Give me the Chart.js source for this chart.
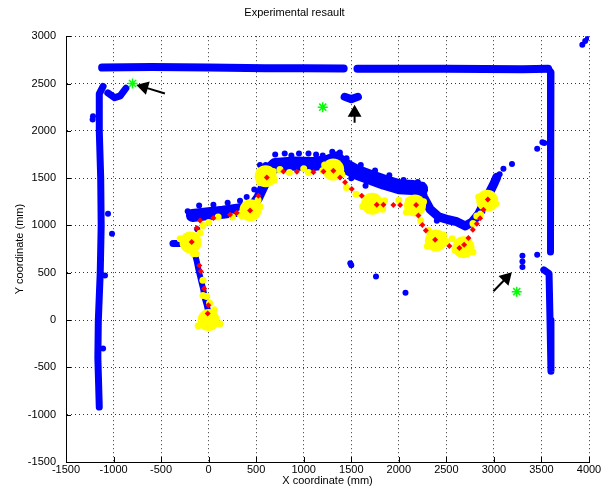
<!DOCTYPE html>
<html>
<head>
<meta charset="utf-8">
<script src="https://cdn.jsdelivr.net/npm/chart.js@4"></script>
<style>
  html, body { margin: 0; padding: 0; background: #fff; }
</style>
</head>
<body>
<canvas id="expChart" width="607" height="489"></canvas>
<script>
// tick labels
const xTicks = [-1500, -1000, -500, 0, 500, 1000, 1500, 2000, 2500, 3000, 3500, 4000];
const yTicks = [-1500, -1000, -500, 0, 500, 1000, 1500, 2000, 2500, 3000];

// walls seen by the sensor (dense blue traces)
const wallTopA = [[-1120, 2668], [-600, 2674], [0, 2668], [600, 2662], [1000, 2660], [1420, 2658]];
const wallTopB = [[1565, 2655], [2500, 2656], [3300, 2650], [3570, 2656]];
const wallLeft = [[-1110, 2470], [-1150, 2390], [-1150, 2000], [-1135, 1500], [-1130, 1000], [-1140, 500], [-1160, 0], [-1165, -400], [-1150, -920]];
const wallRightA = [[3570, 2656], [3600, 2620], [3600, 2200], [3590, 1900], [3590, 1200], [3600, 720]];
const wallRightB = [[3525, 530], [3580, 490], [3590, 0], [3600, -540]];
const hookTL = [[-1060, 2400], [-990, 2350], [-930, 2370], [-870, 2450]];
const gapBlob = [[1430, 2360], [1500, 2335], [1570, 2360]];

// blue trajectory band
const bandLeg = [[-5, 90], [-20, 160], [-40, 230], [-58, 330], [-75, 400], [-92, 470], [-110, 545], [-127, 630], [-145, 700], [-165, 790]];
const bandSide = [[-375, 810], [-285, 810]];
const bandA = [[-170, 1105], [0, 1125], [150, 1140], [300, 1160], [440, 1180]];
const bandRise = [[440, 1180], [520, 1290], [580, 1420], [640, 1560]];
const bandTop = [[640, 1580], [700, 1640], [900, 1655], [1100, 1650], [1250, 1670], [1350, 1710]];
const bandB = [[1350, 1690], [1450, 1620], [1550, 1565], [1700, 1510], [1850, 1455], [2000, 1410], [2150, 1400], [2230, 1385]];
const bandC = [[2230, 1385], [2260, 1300], [2330, 1170], [2420, 1090], [2520, 1060], [2610, 1040], [2700, 995], [2770, 1035], [2840, 1120], [2900, 1240], [2960, 1360], [3000, 1440], [3030, 1510]];

// scattered blue readings
const blueDots = [
  [700, 1750], [800, 1760], [870, 1740], [950, 1760], [1050, 1760], [1130, 1750], [1200, 1740],
  [1300, 1780], [1380, 1770], [-220, 1150], [-100, 1210], [50, 1220], [200, 1240], [330, 1260],
  [400, 1300], [480, 1380], [550, 1520], [600, 1640], [540, 1640], [1450, 1710], [1600, 1640], [1750, 1580],
  [1900, 1530], [2050, 1480], [2200, 1460], [2250, 1430], [3060, 1540], [3100, 1600], [3190, 1650],
  [1490, 600], [1500, 580], [1760, 460], [2070, 290], [3455, 690], [3300, 680], [3300, 620], [3300, 560],
  [3510, 1880], [3530, 1870], [3455, 1810], [-1216, 2153], [-1220, 2120], [-1058, 1124], [-1016, 912],
  [-1090, 470], [-1110, -300], [3930, 2910], [3960, 2950], [3990, 2985], [-60, 1000], [-120, 960],
  [1400, 1580], [1500, 1500], [1650, 1420], [2400, 1050], [2880, 1150], [2940, 1300]
];

// yellow clusters (stops) and scattered yellow readings
const yellowBlobs = [[0, 0], [-190, 820], [440, 1160], [600, 1520], [1310, 1590], [1720, 1230], [2170, 1210], [2390, 840], [2680, 770], [2930, 1260]];
const yellowDots = [
  [-130, 700], [-60, 420], [-20, 250], [-60, 260], [10, 180], [-90, 920], [-60, 1000], [0, 1030], [100, 1090],
  [250, 1090], [350, 1100], [520, 1270], [540, 1200], [680, 1570], [750, 1590], [850, 1560], [1000, 1600],
  [1050, 1560], [1200, 1580], [1450, 1400], [1550, 1330], [1850, 1260], [2000, 1270], [2100, 1260], [2230, 1050],
  [2310, 950], [2500, 830], [2560, 860], [2780, 1020], [2820, 1100], [2860, 1120],
  [-110, -60], [120, -40], [60, 110], [-300, 860], [-160, 700], [330, 1120], [520, 1150],
  [540, 1450], [690, 1480], [1220, 1640], [1400, 1540], [1620, 1200], [1830, 1170], [2080, 1140],
  [2260, 1250], [2300, 780], [2470, 900], [2590, 740], [2780, 720], [2840, 1300], [3020, 1230]
];

// estimated path (red)
const redPath = [
  [-10, 70], [-3, 157], [-48, 333], [-83, 515], [-98, 578], [-178, 824], [-125, 972], [-90, 1052], [50, 1078],
  [225, 1112], [296, 1133], [436, 1157], [523, 1315], [612, 1508], [786, 1571], [927, 1567], [1102, 1561],
  [1207, 1571], [1312, 1578], [1382, 1508], [1435, 1456], [1505, 1385], [1610, 1315], [1768, 1220], [1838, 1220],
  [1943, 1217], [2014, 1217], [2182, 1217], [2206, 1104], [2248, 1006], [2284, 947], [2382, 849], [2532, 782],
  [2637, 761], [2687, 796], [2732, 867], [2778, 954], [2820, 1017], [2855, 1077], [2890, 1167], [2936, 1273]
];

// landmarks (green)
const landmarks = [[-800, 2500], [1200, 2250], [3240, 300]];

// arrows: tail, head
const arrowTL = [[-460, 2395], [-680, 2462]];
const arrowMid = [[1535, 2085], [1535, 2190]];
const arrowBR = [[2995, 305], [3130, 445]];

const pts = arr => arr.map(p => ({ x: p[0], y: p[1] }));
const BLUE = '#0000FF';

function wall(arr, width, order) {
  return {
    data: pts(arr), showLine: true, borderColor: BLUE, borderWidth: width,
    borderCapStyle: 'round', borderJoinStyle: 'round', pointRadius: 0, order: order
  };
}

function arrow(arr, rot) {
  return {
    data: pts(arr), showLine: true, borderColor: '#000', borderWidth: 2,
    pointRadius: [0, 6], pointStyle: 'triangle', pointRotation: [0, rot],
    backgroundColor: '#000', order: 0
  };
}

const font = { family: '"Liberation Sans", Arial, sans-serif', size: 11 };

// little inward tick marks like the original axes
const innerTicks = {
  id: 'innerTicks',
  afterDraw(chart) {
    const { ctx, chartArea: a, scales: { x, y } } = chart;
    ctx.save();
    ctx.strokeStyle = '#000';
    ctx.lineWidth = 1;
    ctx.beginPath();
    xTicks.forEach(v => {
      const px = Math.round(x.getPixelForValue(v)) + 0.5;
      ctx.moveTo(px, a.bottom); ctx.lineTo(px, a.bottom - 5);
    });
    yTicks.forEach(v => {
      const py = Math.round(y.getPixelForValue(v)) + 0.5;
      ctx.moveTo(a.left, py); ctx.lineTo(a.left + 5, py);
    });
    ctx.stroke();
    ctx.restore();
  }
};

const ctx = document.getElementById('expChart').getContext('2d');
const expChart = new Chart(ctx, {
  type: 'scatter',
  data: {
    datasets: [
      wall(wallTopA, 8, 5), wall(wallTopB, 8, 5), wall(wallLeft, 7, 5),
      wall(wallRightA, 7, 5), wall(wallRightB, 7, 5), wall(hookTL, 7, 5), wall(gapBlob, 8, 5),
      wall(bandLeg, 6, 5), wall(bandSide, 7, 5), wall(bandA, 13, 5), wall(bandRise, 10, 5),
      wall(bandTop, 14, 5), wall(bandB, 15, 5), wall(bandC, 9, 5),
      { data: pts(blueDots), pointRadius: 3, pointStyle: 'circle', backgroundColor: BLUE, borderWidth: 0, order: 4 },
      { data: pts(yellowBlobs), pointRadius: 11, pointStyle: 'circle', backgroundColor: '#FFFF00', borderWidth: 0, order: 3 },
      { data: pts(yellowDots), pointRadius: 3.5, pointStyle: 'circle', backgroundColor: '#FFFF00', borderWidth: 0, order: 3 },
      { data: pts(redPath), pointRadius: 3, pointStyle: 'rectRot', backgroundColor: '#FF0000', borderWidth: 0, order: 2 },
      { data: pts(landmarks), pointRadius: 5, pointStyle: 'star', borderColor: '#00FF00', borderWidth: 1.5, order: 1 },
      arrow(arrowTL, -74), arrow(arrowMid, 0), arrow(arrowBR, 44)
    ]
  },
  options: {
    responsive: false,
    animation: false,
    layout: { padding: { left: 0, right: 18, top: 0, bottom: 0 } },
    plugins: {
      legend: { display: false },
      tooltip: { enabled: false },
      title: {
        display: true, text: 'Experimental resault', color: '#000',
        font: { ...font, weight: 'normal' }, padding: { top: 6, bottom: 17 }
      }
    },
    scales: {
      x: {
        type: 'linear', min: -1500, max: 4000,
        afterBuildTicks: s => { s.ticks = xTicks.map(v => ({ value: v })); },
        afterFit: s => { s.height = 27; },
        ticks: { color: '#000', font: font, padding: 1, maxRotation: 0, callback: v => String(v) },
        grid: { color: '#333', drawTicks: false },
        border: { display: true, color: '#000', width: 1, dash: [1, 3] },
        title: { display: true, text: 'X coordinate (mm)', color: '#000', font: font, padding: { top: 0, bottom: 1 } }
      },
      y: {
        type: 'linear', min: -1500, max: 3000,
        afterBuildTicks: s => { s.ticks = yTicks.map(v => ({ value: v })); },
        afterFit: s => { s.width = 66; },
        ticks: { color: '#000', font: font, padding: 10, callback: v => String(v) },
        grid: { color: '#333', drawTicks: false },
        border: { display: true, color: '#000', width: 1, dash: [1, 3] },
        title: { display: true, text: 'Y coordinate (mm)', color: '#000', font: font, padding: { top: 13, bottom: 0 } }
      }
    }
  },
  plugins: [innerTicks]
});
</script>
</body>
</html>
